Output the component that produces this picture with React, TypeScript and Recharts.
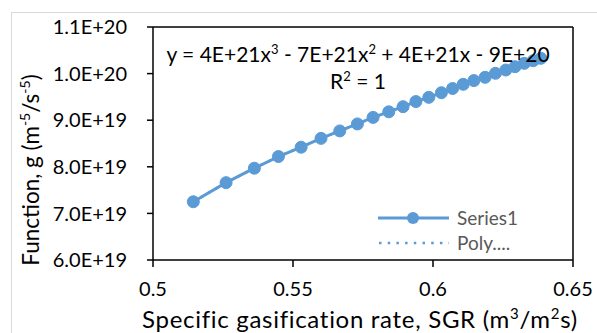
import { Label, Line, LineChart, ReferenceLine, XAxis, YAxis } from "recharts";

const sgr = [
  0.5144, 0.5261, 0.5362, 0.5448, 0.5529, 0.56, 0.5667, 0.573, 0.5786, 0.5842,
  0.5893, 0.5939, 0.5985, 0.603, 0.607, 0.6108, 0.6146, 0.6186, 0.6223, 0.626,
  0.6293, 0.6326, 0.6358, 0.6385,
];
const gValues = [
  7.25e19, 7.66e19, 7.97e19, 8.22e19, 8.42e19, 8.61e19, 8.77e19, 8.92e19, 9.06e19, 9.18e19,
  9.29e19, 9.4e19, 9.49e19, 9.59e19, 9.68e19, 9.77e19, 9.85e19, 9.92e19, 1.0006e20, 1.0077e20,
  1.0148e20, 1.022e20, 1.0277e20, 1.0328e20,
];
const xTicks = [0.5, 0.55, 0.6, 0.65];
const yTicks = [6e19, 7e19, 8e19, 9e19, 1e20, 1.1e20];
const X_MAX = 0.65;
const Y_MAX = 1.1e20;

const data = sgr.map((x, i) => ({ sgr: x, g: gValues[i] }));

const FONT = "Lato, 'Open Sans', sans-serif";
const BLUE = "#5b9bd5";

function formatY(value: number) {
  return value.toExponential(1).toUpperCase();
}

function YTitle() {
  return (
    <text
      transform="translate(39,170) rotate(-90)"
      textAnchor="middle"
      fontFamily={FONT}
      fontSize={22.5}
      fill="#000"
    >
      Function, g (m<tspan dy={-9} fontSize={14}>-5</tspan>
      <tspan dy={9}>/s</tspan>
      <tspan dy={-9} fontSize={14}>-5</tspan>
      <tspan dy={9}>)</tspan>
    </text>
  );
}

function XTitle() {
  return (
    <text
      x={360}
      y={328}
      textAnchor="middle"
      fontFamily={FONT}
      fontSize={24}
      letterSpacing={0.7}
      fill="#000"
    >
      Specific gasification rate, SGR (m<tspan dy={-9} fontSize={15}>3</tspan>
      <tspan dy={9}>/m</tspan>
      <tspan dy={-9} fontSize={15}>2</tspan>
      <tspan dy={9}>s)</tspan>
    </text>
  );
}

function LegendBox() {
  return (
    <div
      style={{
        position: "absolute",
        left: 376,
        top: 205,
        fontFamily: FONT,
        fontSize: 19,
        color: "#595959",
        lineHeight: "25px",
      }}
    >
      <div style={{ display: "flex", alignItems: "center", height: 25 }}>
        <svg width={74} height={25}>
          <line x1={2} x2={73} y1={13} y2={13} stroke={BLUE} strokeWidth={3} />
          <circle cx={37} cy={13} r={6} fill={BLUE} />
        </svg>
        <span style={{ marginLeft: 7 }}>Series1</span>
      </div>
      <div style={{ display: "flex", alignItems: "center", height: 25 }}>
        <svg width={74} height={25}>
          <line
            x1={3}
            x2={73}
            y1={13}
            y2={13}
            stroke={BLUE}
            strokeWidth={2.5}
            strokeDasharray="2.5 6.2"
          />
        </svg>
        <span style={{ marginLeft: 7 }}>Poly....</span>
      </div>
    </div>
  );
}

const supStyle = { fontSize: 13, verticalAlign: "8px", lineHeight: 0 };

export default function App() {
  return (
    <div
      style={{
        position: "absolute",
        left: 0,
        top: 0,
        width: 597,
        height: 333,
        background: "#fff",
        overflow: "hidden",
      }}
    >
      <div
        style={{
          position: "absolute",
          left: 11,
          top: 12,
          width: 620,
          height: 340,
          border: "1px solid #d9d9d9",
        }}
      />
      <LineChart
        width={597}
        height={333}
        data={data}
        margin={{ top: 27, right: 24, left: 0, bottom: 0 }}
        style={{ position: "absolute", left: 0, top: 0 }}
      >
        <XAxis
          dataKey="sgr"
          type="number"
          domain={[0.5, X_MAX]}
          ticks={xTicks}
          height={73}
          axisLine={{ stroke: "#000", strokeWidth: 1.5 }}
          tickLine={{ stroke: "#000", strokeWidth: 1.5 }}
          tickSize={7}
          tickMargin={15}
          tick={{ fill: "#000", fontFamily: FONT, fontSize: 20 }}
          allowDataOverflow
        >
          <Label content={<XTitle />} />
        </XAxis>
        <YAxis
          type="number"
          domain={[6e19, Y_MAX]}
          ticks={yTicks}
          width={153}
          axisLine={{ stroke: "#000", strokeWidth: 1.5 }}
          tickLine={{ stroke: "#000", strokeWidth: 1.5 }}
          tickSize={6}
          tickMargin={20}
          tickFormatter={formatY}
          tick={{ fill: "#000", fontFamily: FONT, fontSize: 20 }}
          allowDataOverflow
        >
          <Label content={<YTitle />} />
        </YAxis>
        <ReferenceLine y={Y_MAX} stroke="#000" strokeWidth={1.5} />
        <ReferenceLine x={X_MAX} stroke="#000" strokeWidth={1.5} />
        <Line
          dataKey="g"
          stroke={BLUE}
          strokeDasharray="2.5 6"
          strokeWidth={2.5}
          dot={false}
          isAnimationActive={false}
        />
        <Line
          dataKey="g"
          stroke={BLUE}
          strokeWidth={3}
          dot={{ r: 6, fill: BLUE, stroke: BLUE, strokeWidth: 1 }}
          isAnimationActive={false}
        />
      </LineChart>
      <LegendBox />
      <div
        style={{
          position: "absolute",
          left: 153,
          top: 40,
          width: 410,
          textAlign: "center",
          fontFamily: FONT,
          fontSize: 21,
          lineHeight: "27px",
          color: "#000",
        }}
      >
        <div>
          y = 4E+21x<sup style={supStyle}>3</sup> - 7E+21x<sup style={supStyle}>2</sup> + 4E+21x - 9E+20
        </div>
        <div>
          R<sup style={supStyle}>2</sup> = 1
        </div>
      </div>
    </div>
  );
}
